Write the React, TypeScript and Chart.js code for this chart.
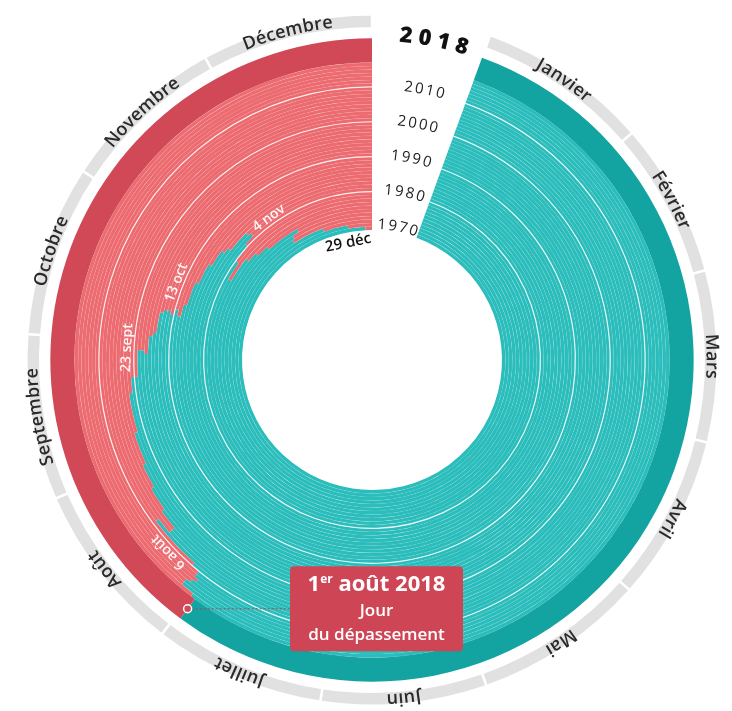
import React, { useEffect, useRef } from 'react';
import { Chart, registerables } from 'chart.js';

Chart.register(...registerables);

// ---- Data ----
const years = [
  1970, 1971, 1972, 1973, 1974, 1975, 1976, 1977, 1978, 1979,
  1980, 1981, 1982, 1983, 1984, 1985, 1986, 1987, 1988, 1989,
  1990, 1991, 1992, 1993, 1994, 1995, 1996, 1997, 1998, 1999,
  2000, 2001, 2002, 2003, 2004, 2005, 2006, 2007, 2008, 2009,
  2010, 2011, 2012, 2013, 2014, 2015, 2016, 2017, 2018,
];
// Jour du dépassement, as day of year (1 = 1er janvier)
const overshootDay = [
  363, 355, 344, 330, 331, 334, 320, 315, 311, 301,
  308, 315, 319, 318, 310, 308, 302, 295, 287, 283,
  285, 283, 284, 284, 283, 277, 276, 271, 272, 272,
  265, 265, 261, 251, 243, 237, 231, 226, 226, 230,
  217, 215, 215, 214, 215, 216, 216, 213, 212,
];
const monthNames = [
  'Janvier', 'Février', 'Mars', 'Avril', 'Mai', 'Juin',
  'Juillet', 'Août', 'Septembre', 'Octobre', 'Novembre', 'Décembre',
];
const monthDays = [31, 28, 31, 30, 31, 30, 31, 31, 30, 31, 30, 31];
const yearLabels = [1970, 1980, 1990, 2000, 2010];
const decadeLines = [1980, 1990, 2000, 2010];
const decadeNoteYears = [1980, 1990, 2000, 2010];
const decadeNotes = ['4 nov', '13 oct', '23 sept', '6 août'];
const firstNoteYear = 1970;
const firstNote = '29 déc';
const highlightYear = 2018;
const DAYS = 365;

// ---- Styles ----
const TEAL = '#2BBDBB';
const DARK_TEAL = '#13A3A1';
const RED = '#EC6B70';
const DARK_RED = '#D14857';
const GRAY = '#E1E1E1';
const BOX = '#CE4655';
const FONT = '"Open Sans", "Noto Sans", sans-serif';

const datasetIndexOfYear = (y: number) => 2 + (years.length - 1 - years.indexOf(y));

function drawArcText(ctx: CanvasRenderingContext2D, text: string, cx: number, cy: number, r: number, centerAngle: number, spacing: number) {
  const chars = Array.from(text);
  const widths = chars.map((c) => ctx.measureText(c).width);
  const total = widths.reduce((a, b) => a + b, 0) + spacing * (chars.length - 1);
  let a = centerAngle - total / 2 / r;
  ctx.textAlign = 'center';
  chars.forEach((c, k) => {
    const ca = a + widths[k] / 2 / r;
    ctx.save();
    ctx.translate(cx + r * Math.cos(ca), cy + r * Math.sin(ca));
    ctx.rotate(ca + Math.PI / 2);
    ctx.fillText(c, 0, 0);
    ctx.restore();
    a += (widths[k] + spacing) / r;
  });
}

function drawStraightText(ctx: CanvasRenderingContext2D, text: string, cx: number, cy: number, r: number, angle: number) {
  ctx.save();
  ctx.translate(cx + r * Math.cos(angle), cy + r * Math.sin(angle));
  ctx.rotate(angle + Math.PI / 2);
  ctx.textAlign = 'center';
  ctx.fillText(text, 0, 0);
  ctx.restore();
}

const texturePlugin = {
  id: 'texture',
  afterDatasetsDraw(chart: any) {
    const ctx = chart.ctx as CanvasRenderingContext2D;
    ctx.save();
    ctx.strokeStyle = 'rgba(255,255,255,0.11)';
    ctx.lineWidth = 0.6;
    years.forEach((y) => {
      if (y === highlightYear) return;
      const meta = chart.getDatasetMeta(datasetIndexOfYear(y));
      const a0 = meta.data[0];
      const a1 = meta.data[1];
      ctx.beginPath();
      ctx.arc(a0.x, a0.y, a0.outerRadius, a0.startAngle, a1.endAngle);
      ctx.stroke();
    });
    ctx.restore();
  },
};

const overlayPlugin = {
  id: 'overlay',
  afterDraw(chart: any) {
    const ctx = chart.ctx as CanvasRenderingContext2D;
    ctx.save();

    // Month labels on grey ring
    const monthMeta = chart.getDatasetMeta(0);
    ctx.font = `600 18px ${FONT}`;
    ctx.fillStyle = '#2a2a2a';
    ctx.textBaseline = 'middle';
    monthMeta.data.forEach((arc: any, i: number) => {
      const r = (arc.innerRadius + arc.outerRadius) / 2 + 1;
      drawArcText(ctx, monthNames[i], arc.x, arc.y, r, (arc.startAngle + arc.endAngle) / 2, 0.4);
    });

    // Decade white lines
    ctx.strokeStyle = 'rgba(255,255,255,0.85)';
    ctx.lineWidth = 1.2;
    decadeLines.forEach((y) => {
      const meta = chart.getDatasetMeta(datasetIndexOfYear(y));
      const a0 = meta.data[0];
      const a1 = meta.data[1];
      ctx.beginPath();
      ctx.arc(a0.x, a0.y, a0.outerRadius, a0.startAngle, a1.endAngle);
      ctx.stroke();
    });

    const gapAngle = -Math.PI / 2 + (11 * Math.PI) / 180;

    // Year labels in the gap
    ctx.fillStyle = '#222';
    ctx.textBaseline = 'middle';
    ctx.font = `400 15px ${FONT}`;
    yearLabels.forEach((y) => {
      const meta = chart.getDatasetMeta(datasetIndexOfYear(y));
      const a0 = meta.data[0];
      drawArcText(ctx, String(y), a0.x, a0.y, a0.outerRadius + 2, gapAngle, 2.2);
    });
    {
      const meta = chart.getDatasetMeta(datasetIndexOfYear(highlightYear));
      const a0 = meta.data[0];
      ctx.font = `800 22px ${FONT}`;
      ctx.fillStyle = '#111';
      drawArcText(ctx, String(highlightYear), a0.x, a0.y, a0.outerRadius + 4, gapAngle, 6);
    }

    // Decade notes (white, on red)
    ctx.font = `600 14px ${FONT}`;
    ctx.fillStyle = 'rgba(255,255,255,0.95)';
    ctx.textBaseline = 'alphabetic';
    decadeNoteYears.forEach((y, k) => {
      const idx = datasetIndexOfYear(y);
      const meta = chart.getDatasetMeta(idx);
      const a0 = meta.data[0];
      let start = a0.endAngle;
      for (let j = 1; j <= 3; j++) {
        const m = chart.getDatasetMeta(idx - j);
        start = Math.max(start, m.data[0].endAngle);
      }
      const r = a0.outerRadius + 3;
      const w = ctx.measureText(decadeNotes[k]).width;
      drawStraightText(ctx, decadeNotes[k], a0.x, a0.y, r, start + (5 + w / 2) / r);
    });

    // First year note (black, inside the hole)
    {
      const meta = chart.getDatasetMeta(datasetIndexOfYear(firstNoteYear));
      const a0 = meta.data[0];
      ctx.font = `600 15px ${FONT}`;
      ctx.fillStyle = '#111';
      ctx.textBaseline = 'top';
      const r = a0.innerRadius - 3;
      const w = ctx.measureText(firstNote).width;
      drawStraightText(ctx, firstNote, a0.x, a0.y, r, a0.endAngle + (4 - w / 2) / r);
    }

    // Callout for highlighted year
    {
      const meta = chart.getDatasetMeta(datasetIndexOfYear(highlightYear));
      const a0 = meta.data[0];
      const rm = (a0.innerRadius + a0.outerRadius) / 2;
      const px = a0.x + rm * Math.cos(a0.endAngle);
      const py = a0.y + rm * Math.sin(a0.endAngle);
      const bw = 173;
      const bh = 85;
      const bx = a0.x - 82;
      const by = py - bh / 2;

      ctx.strokeStyle = '#9C4C5C';
      ctx.lineWidth = 1.2;
      ctx.setLineDash([2, 2]);
      ctx.beginPath();
      ctx.moveTo(px + 4, py);
      ctx.lineTo(bx, py);
      ctx.stroke();
      ctx.setLineDash([]);

      ctx.beginPath();
      ctx.arc(px, py, 4, 0, Math.PI * 2);
      ctx.fillStyle = DARK_RED;
      ctx.fill();
      ctx.strokeStyle = '#fff';
      ctx.lineWidth = 1.5;
      ctx.stroke();

      ctx.fillStyle = BOX;
      ctx.beginPath();
      if ((ctx as any).roundRect) (ctx as any).roundRect(bx, by, bw, bh, 4);
      else ctx.rect(bx, by, bw, bh);
      ctx.fill();

      ctx.fillStyle = '#fff';
      ctx.textBaseline = 'middle';
      ctx.textAlign = 'left';
      const big = `700 22px ${FONT}`;
      const sup = `700 12px ${FONT}`;
      ctx.font = big;
      const w1 = ctx.measureText('1').width;
      const w3 = ctx.measureText(' août 2018').width;
      ctx.font = sup;
      const w2 = ctx.measureText('er').width;
      const tx = bx + bw / 2 - (w1 + w2 + w3) / 2;
      const ty = by + 19;
      ctx.font = big;
      ctx.fillText('1', tx, ty);
      ctx.font = sup;
      ctx.fillText('er', tx + w1, ty - 6);
      ctx.font = big;
      ctx.fillText(' août 2018', tx + w1 + w2, ty);
      ctx.textAlign = 'center';
      ctx.font = `600 17px ${FONT}`;
      ctx.fillText('Jour', bx + bw / 2, by + 45);
      ctx.fillText('du dépassement', bx + bw / 2, by + 69);
    }

    ctx.restore();
  },
};

export default function App() {
  const ref = useRef<HTMLCanvasElement>(null);

  useEffect(() => {
    const canvas = ref.current;
    if (!canvas) return;
    const yearDatasets = years
      .slice()
      .reverse()
      .map((y) => {
        const i = years.indexOf(y);
        const before = overshootDay[i] - 1;
        const hl = y === highlightYear;
        return {
          label: String(y),
          data: [before, DAYS - before],
          backgroundColor: hl ? [DARK_TEAL, DARK_RED] : [TEAL, RED],
          borderWidth: 0,
          weight: hl ? 6.9 : 1,
        };
      });
    const datasets: any[] = [
      {
        label: 'mois',
        data: monthDays,
        backgroundColor: GRAY,
        borderColor: '#fff',
        borderWidth: 2.5,
        weight: 4,
      },
      {
        label: 'espace',
        data: [DAYS],
        backgroundColor: 'rgba(0,0,0,0)',
        borderWidth: 0,
        weight: 2.9,
      },
      ...yearDatasets,
    ];

    const chart = new Chart(canvas, {
      type: 'doughnut',
      data: { labels: monthNames, datasets },
      options: {
        responsive: false,
        animation: false,
        devicePixelRatio: 1,
        rotation: 20,
        circumference: 340,
        cutout: '37.6%',
        events: [],
        layout: { padding: { left: 25, right: 13, top: 13, bottom: 4 } },
        plugins: { legend: { display: false }, tooltip: { enabled: false } },
      } as any,
      plugins: [texturePlugin, overlayPlugin],
    });
    return () => chart.destroy();
  }, []);

  return (
    <div style={{ position: 'fixed', left: 0, top: 0, width: 732, height: 711, background: '#fff' }}>
      <canvas ref={ref} width={732} height={711} style={{ display: 'block' }} />
    </div>
  );
}
